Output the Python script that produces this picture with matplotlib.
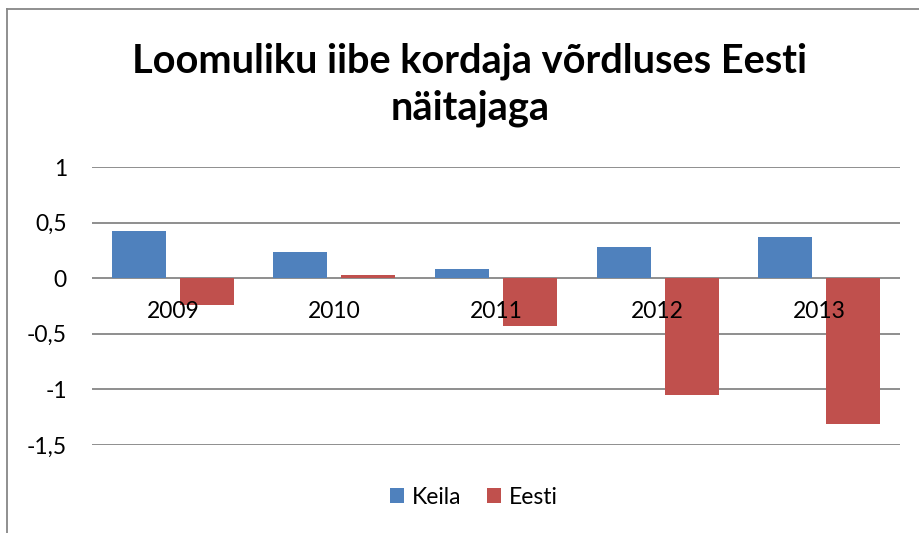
import matplotlib
matplotlib.use('Agg')
import matplotlib.pyplot as plt
from matplotlib.lines import Line2D
import numpy as np

# data
years = ['2009', '2010', '2011', '2012', '2013']
keila = [0.42, 0.24, 0.08, 0.28, 0.37]
eesti = [-0.24, 0.03, -0.43, -1.05, -1.31]
yticks = [1, 0.5, 0, -0.5, -1, -1.5]
ytick_labels = ['1', '0,5', '0', '-0,5', '-1', '-1,5']

plt.rcParams['font.family'] = ['Lato', 'DejaVu Sans']

W, H = 920, 533
fig = plt.figure(figsize=(W / 100, H / 100), dpi=100)
ax = fig.add_axes([92 / W, 1 - 445 / H, (900 - 92) / W, (445 - 167) / H])

x = np.arange(len(years))
bw = 0.334
ax.bar(x - 0.21, keila, width=bw, color='#4F81BD', label='Keila', zorder=3)
ax.bar(x + 0.21, eesti, width=bw, color='#C0504D', label='Eesti', zorder=3)

ax.set_xlim(-0.5, len(years) - 0.5)
ax.set_ylim(-1.5, 1)
ax.set_yticks(yticks)
ax.set_yticklabels(ytick_labels)
ax.tick_params(axis='y', length=0, pad=18, labelsize=16.5)
ax.set_xticks([])
ax.grid(axis='y', color='#868686', linewidth=1.3, zorder=0)
for s in ax.spines.values():
    s.set_visible(False)

# category labels sit just under the zero line
for i, yr in enumerate(years):
    ax.annotate(yr, (i, 0), xytext=(0, -24), textcoords='offset points',
                ha='center', va='center', fontsize=16.5, zorder=4)

fig.text(470 / W, 1 - 85 / H, 'Loomuliku iibe kordaja võrdluses Eesti\nnäitajaga',
         ha='center', va='center', fontsize=28.6, fontweight='bold',
         linespacing=1.32)

fig.legend(loc='center', bbox_to_anchor=(474 / W, 1 - 497 / H), ncol=2,
           frameon=False, fontsize=16.5, handlelength=0.62, handleheight=0.62,
           handletextpad=0.35, columnspacing=1.1)

# chart area border (right and bottom edges fall outside the image)
fig.add_artist(Line2D([7 / W, 1.01], [1 - 9 / H, 1 - 9 / H], color='#878787', lw=1.3))
fig.add_artist(Line2D([7 / W, 7 / W], [-0.01, 1 - 9 / H], color='#878787', lw=1.3))

fig.savefig('out.png', dpi=100)
